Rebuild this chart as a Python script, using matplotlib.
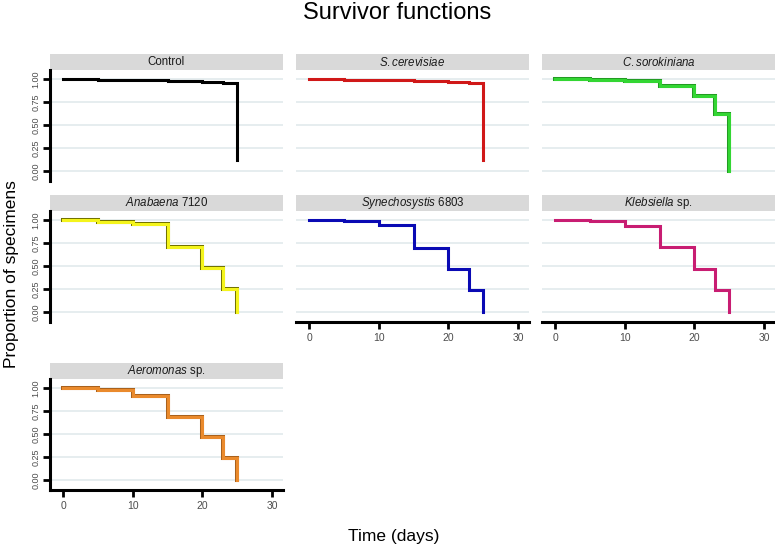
import matplotlib
matplotlib.use("Agg")
import matplotlib.pyplot as plt
import matplotlib.patheffects as pe
from matplotlib.patches import Rectangle

plt.rcParams['font.family'] = ['Liberation Sans', 'DejaVu Sans']
plt.rcParams['mathtext.fontset'] = 'custom'
plt.rcParams['mathtext.it'] = 'Liberation Sans:italic'
plt.rcParams['mathtext.rm'] = 'Liberation Sans'

# time points where the survivor curves step
days = [0, 5, 10, 15, 20, 23, 25]

# survival proportions
control = [1.0, 0.989, 0.989, 0.978, 0.970, 0.963, 0.118]
s_cerevisiae = [1.0, 0.989, 0.989, 0.982, 0.974, 0.963, 0.118]
c_sorokiniana = [1.0, 0.990, 0.975, 0.926, 0.816, 0.621, 0.0]
anabaena = [1.0, 0.985, 0.956, 0.712, 0.474, 0.245, 0.0]
synechosystis = [1.0, 0.989, 0.945, 0.700, 0.467, 0.241, 0.0]
klebsiella = [1.0, 0.989, 0.940, 0.708, 0.471, 0.241, 0.0]
aeromonas = [1.0, 0.985, 0.920, 0.690, 0.465, 0.241, 0.0]

panel_labels = ['Control', r'$\mathit{S.cerevisiae}$', r'$\mathit{C.sorokiniana}$',
                r'$\mathit{Anabaena}$ 7120', r'$\mathit{Synechosystis}$ 6803',
                r'$\mathit{Klebsiella}$ sp.', r'$\mathit{Aeromonas}$ sp.']
series = [control, s_cerevisiae, c_sorokiniana, anabaena, synechosystis, klebsiella, aeromonas]
colors = ['#000000', '#d01818', '#33d633', '#f4f41c', '#0a0ab4', '#c81d72', '#ea8a2c']
# some curves have a darker edge in the original
edges = [None, None, '#239a23', '#707000', None, None, '#a8601c']

y_ticks = [0, 0.25, 0.5, 0.75, 1.0]
y_tick_labels = ['0.00', '0.25', '0.50', '0.75', '1.00']
x_ticks = [0, 10, 20, 30]

W, H = 775, 549
fig = plt.figure(figsize=(W / 100, H / 100), dpi=100)

col_left = [50, 296, 542]
row_top = [70, 211, 379]
pw, ph = 233, 111
strip_h = 16

for i, (vals, lab) in enumerate(zip(series, panel_labels)):
    r, c = divmod(i, 3)
    ax = fig.add_axes([col_left[c] / W, (H - row_top[r] - ph) / H, pw / W, ph / H])

    line, = ax.plot(days, vals, drawstyle='steps-post', color=colors[i], lw=2.2,
                    solid_joinstyle='miter')
    if edges[i]:
        line.set_path_effects([pe.Stroke(linewidth=2.9, foreground=edges[i]), pe.Normal()])

    ax.set_xlim(-1.87, 31.55)
    ax.set_ylim(-0.11, 1.1)
    ax.set_yticks(y_ticks)
    ax.set_xticks(x_ticks)
    ax.yaxis.grid(True, color='#e4ecee', lw=1.3)
    ax.set_axisbelow(True)
    for s in ax.spines.values():
        s.set_visible(False)

    # y axis only on the first column
    if c == 0:
        ax.spines['left'].set_visible(True)
        ax.spines['left'].set_linewidth(2.2)
        ax.set_yticklabels(y_tick_labels, rotation=90, va='center')
        ax.tick_params(axis='y', length=5, width=2.0, labelsize=6.5,
                       labelcolor='#4d4d4d', pad=2)
    else:
        ax.tick_params(axis='y', length=0, labelleft=False)

    # x axis only on the lowest panel of each column
    bottom = (r == 2) or (r == 1 and c > 0)
    if bottom:
        ax.spines['bottom'].set_visible(True)
        ax.spines['bottom'].set_linewidth(2.2)
        ax.tick_params(axis='x', length=5, width=2.0, labelsize=7.5,
                       labelcolor='#4d4d4d', pad=3)
    else:
        ax.tick_params(axis='x', length=0, labelbottom=False)

    # facet strip
    sh = strip_h / ph
    ax.add_patch(Rectangle((0, 1), 1, sh, transform=ax.transAxes,
                           facecolor='#d9d9d9', edgecolor='none', clip_on=False))
    ax.text(0.5, 1 + sh / 2, lab, transform=ax.transAxes, ha='center', va='center',
            fontsize=8.3, color='#1a1a1a')

fig.text(397 / W, 1 - 13 / H, 'Survivor functions', ha='center', va='center', fontsize=17)
fig.text(394 / W, 1 - 537 / H, 'Time (days)', ha='center', va='center', fontsize=12.5)
fig.text(12 / W, 1 - 274 / H, 'Proportion of specimens', ha='center', va='center',
         rotation=90, fontsize=12.5)

fig.savefig('out.png', dpi=100)
plt.close(fig)
